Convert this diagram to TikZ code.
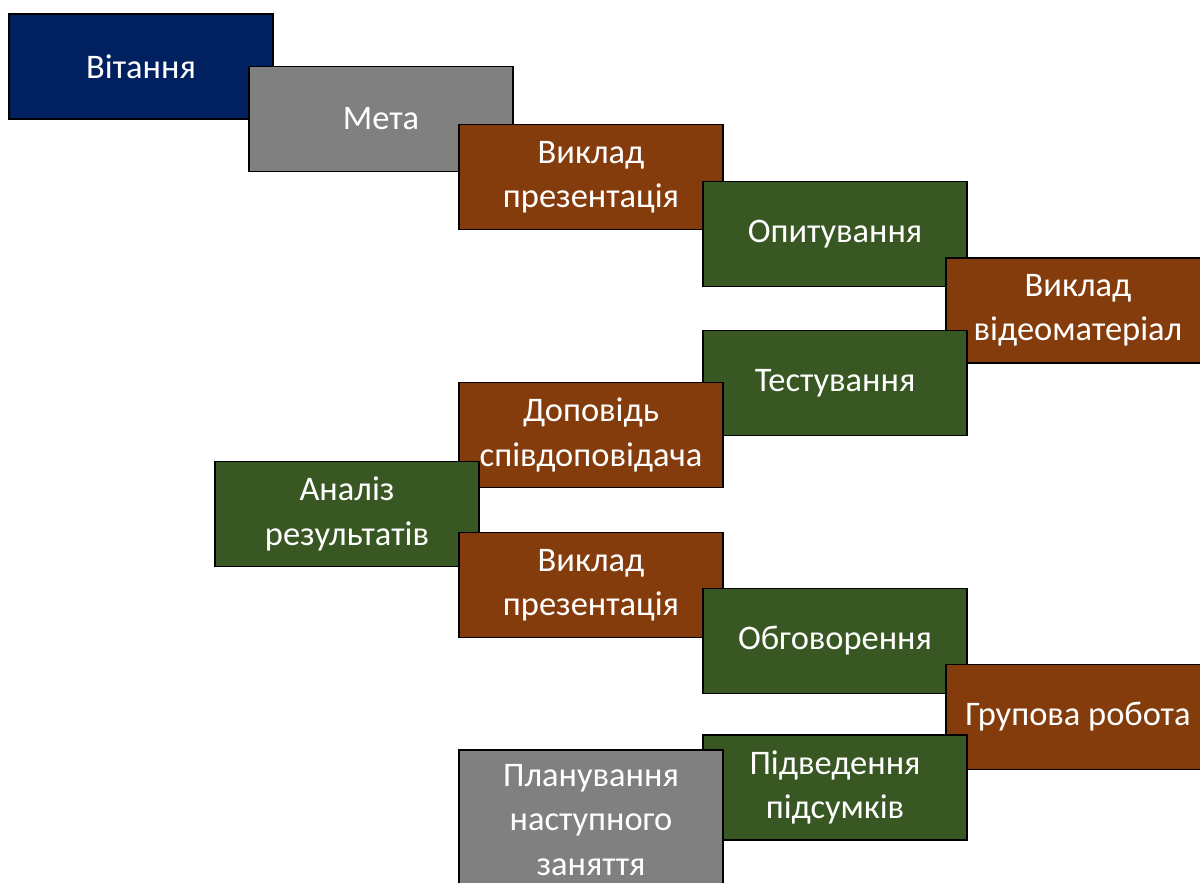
\documentclass[tikz,border=0pt]{standalone}
\usepackage{fontspec}
\setmainfont{Carlito}
\usetikzlibrary{positioning}
\definecolor{NavyBlue}{RGB}{0, 32, 96}
\definecolor{StoneGrey}{RGB}{128, 128, 128}
\definecolor{RustBrown}{RGB}{132, 60, 12}
\definecolor{MossGreen}{RGB}{56, 87, 35}

\begin{document}
\begin{tikzpicture}[x=0.025cm, y=-0.025cm,
    blok/.style={draw=black, line width=1pt, text=white, align=center,
        minimum width=6.6cm, minimum height=2.625cm, inner sep=2pt,
        font=\fontsize{24.5}{31.5}\selectfont},
    syniy/.style={blok, fill=NavyBlue},
    siryi/.style={blok, fill=StoneGrey},
    korychn/.style={blok, fill=RustBrown},
    zelenyi/.style={blok, fill=MossGreen}]
    % Rozmir kartynky
    \useasboundingbox (0,0) rectangle (1200,882);

    % Etapy zaniattia, zverkhu vnyz
    \node[syniy] (vitannia) at (141,66.5) {Вітання};
    \node[siryi] (meta) at (381,119) {Мета};
    \node[korychn] (vyklad) at (591,177) {Виклад\\презентація};
    \node[zelenyi] (opytuvannia) at (835,234) {Опитування};
    \node[korychn] (video) at (1078,310.5) {Виклад\\відеоматеріал};
    \node[zelenyi] (testuvannia) at (835,383) {Тестування};
    \node[korychn] (dopovid) at (591,435) {Доповідь\\співдоповідача};
    \node[zelenyi] (analiz) at (347,514) {Аналіз\\результатів};
    \node[korychn] (vykladdva) at (591,585) {Виклад\\презентація};
    \node[zelenyi] (obhovorennia) at (835,641) {Обговорення};
    \node[korychn] (hrupova) at (1078,717) {Групова робота};
    \node[zelenyi] (pidsumky) at (835,787.5) {Підведення\\підсумків};
    \node[siryi, minimum height=3.5cm] (planuvannia) at (591,820)
        {Планування\\наступного\\заняття};
\end{tikzpicture}
\end{document}
